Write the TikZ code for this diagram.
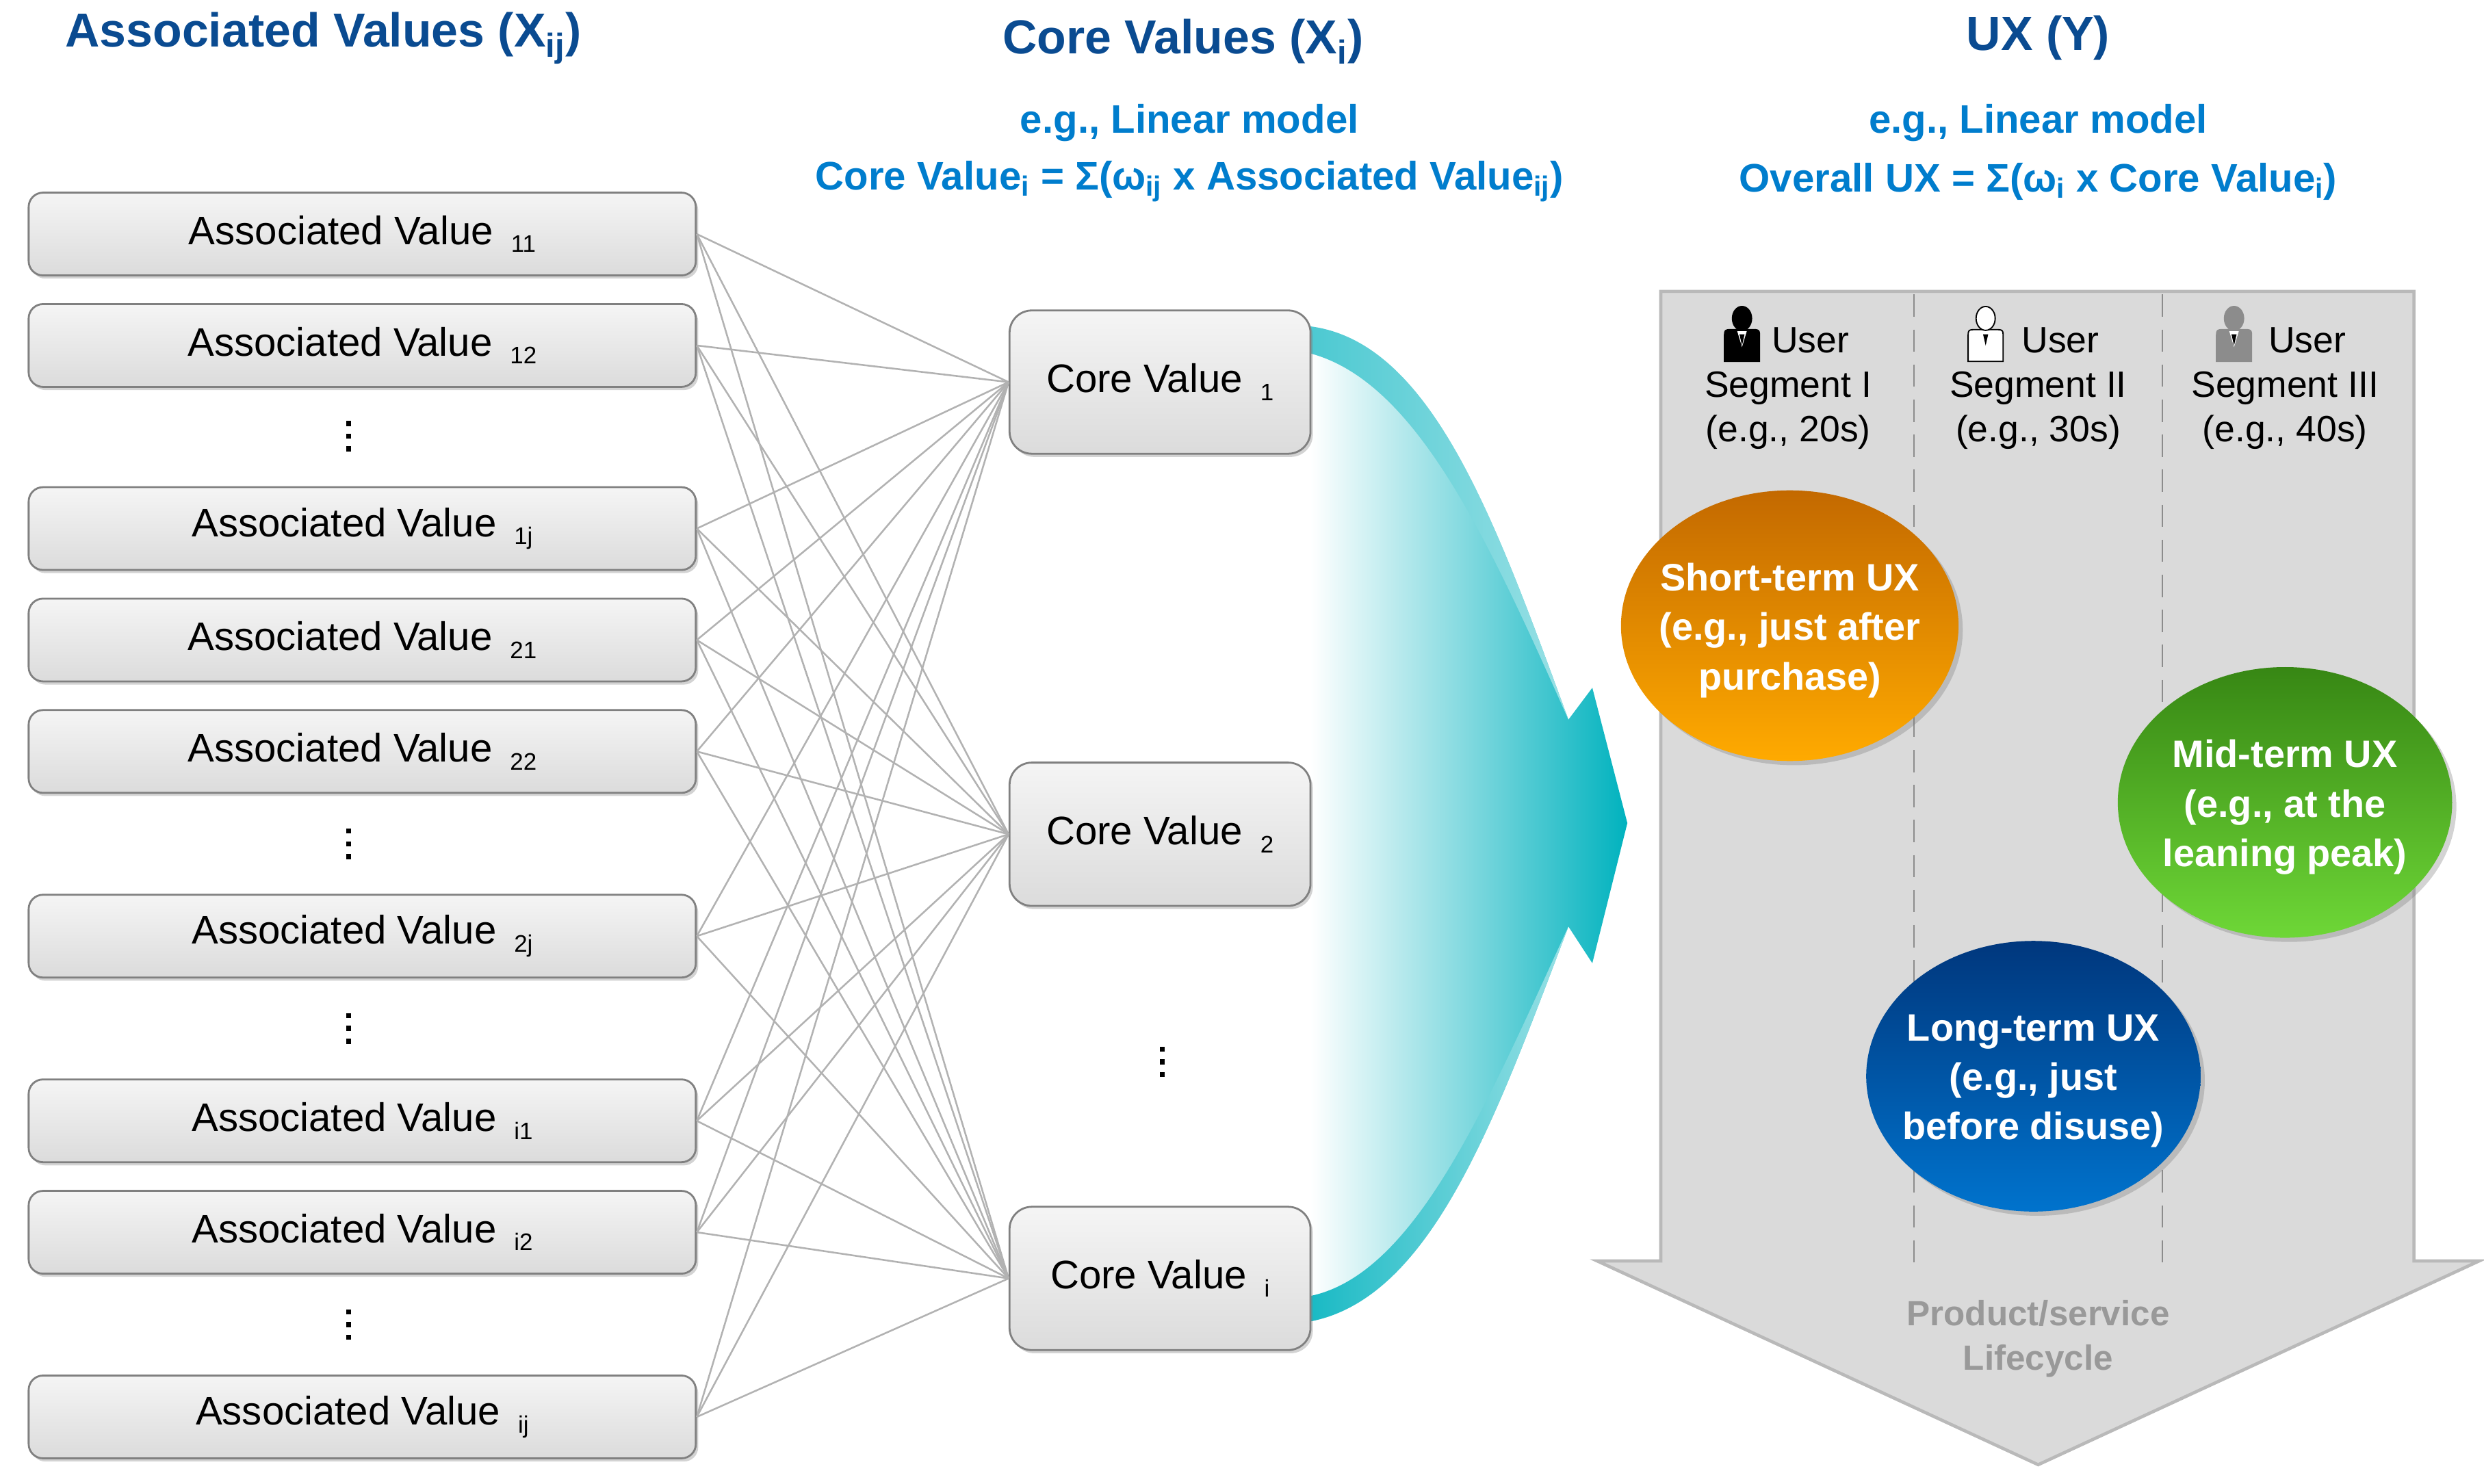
\documentclass[tikz,border=0pt]{standalone}
\usepackage{fontspec}
\setmainfont{Liberation Sans}
\usetikzlibrary{shadows,shapes.geometric}
\definecolor{tdark}{RGB}{10,75,145}
\definecolor{tlight}{RGB}{0,125,205}
\definecolor{cyanA}{RGB}{0,178,190}
\definecolor{panel}{RGB}{218,218,218}
\definecolor{panelE}{RGB}{185,185,185}
\begin{document}
\begin{tikzpicture}[x=1pt,y=-1pt,
  box/.style={draw=black!50,line width=1.2pt,rounded corners=9pt,top color=black!4,bottom color=black!14,drop shadow={opacity=0.35,shadow xshift=1.5pt,shadow yshift=-2pt},font=\fontsize{25}{28}\selectfont},
  av/.style={box,minimum width=419pt,minimum height=52pt},
  cv/.style={box,rounded corners=14pt,minimum width=189pt,minimum height=90pt},
  lnk/.style={draw=black!30,line width=1.1pt},
  ttl/.style={font=\fontsize{30}{33}\selectfont\bfseries,text=tdark},
  sub/.style={font=\fontsize{25}{28}\selectfont\bfseries,text=tlight},
  seg/.style={font=\fontsize{23}{28}\selectfont,align=center},
  uxbg/.style={drop shadow={opacity=0.35}},
  ux/.style={text=white,align=center,font=\fontsize{24}{31}\selectfont\bfseries},
  dot/.style={fill=black}]
\useasboundingbox (0,0) rectangle (1560,932);
% titles
\node[ttl] (t1) at (203,24) {Associated Values (X\textsubscript{ij})};
\node[ttl] (t2) at (743,26) {Core Values (X\textsubscript{i})};
\node[ttl] (t3) at (1280,24) {UX (Y)};
\node[sub] (s1) at (747,77) {e.g., Linear model};
\node[sub] (s2) at (747,114) {Core Value\textsubscript{i} = Σ(ω\textsubscript{ij} x Associated Value\textsubscript{ij})};
\node[sub] (s3) at (1280,77) {e.g., Linear model};
\node[sub] (s4) at (1280,114) {Overall UX = Σ(ω\textsubscript{i} x Core Value\textsubscript{i})};
% cyan arrow
\shade[left color=white,right color=cyanA]
 (823,205) .. controls (900,215) and (940,330) .. (985,452) -- (1000,432) -- (1022,517) -- (1000,605) -- (985,582)
 .. controls (940,700) and (900,815) .. (823,830) -- cycle;
\shade[left color=cyanA!70,right color=cyanA!40]
 (823,205) .. controls (900,215) and (940,330) .. (985,452) .. controls (935,340) and (890,240) .. (823,222) -- cycle;
\shade[left color=cyanA!90,right color=cyanA!40]
 (823,830) .. controls (900,815) and (940,700) .. (985,582) .. controls (935,690) and (890,800) .. (823,814) -- cycle;
% right panel
\fill[panel,draw=panelE,line width=2pt] (1043,183) -- (1516,183) -- (1516,792) -- (1557,792) -- (1280,920) -- (1003,792) -- (1043,792) -- cycle;
\draw[black!45,dashed,dash pattern=on 14pt off 8pt,line width=1pt] (1202,185) -- (1202,800);
\draw[black!45,dashed,dash pattern=on 14pt off 8pt,line width=1pt] (1358,185) -- (1358,800);
\node[seg] (g1) at (1123,244) {\hspace*{28pt}User\\Segment I\\(e.g., 20s)};
\node[seg] (g2) at (1280,244) {\hspace*{28pt}User\\Segment II\\(e.g., 30s)};
\node[seg] (g3) at (1435,244) {\hspace*{28pt}User\\Segment III\\(e.g., 40s)};
% icons
\foreach \cx/\fc/\dc in {1094/black/black,1247/white/black,1403/black!45/black!45}{
  \filldraw[fill=\fc,draw=\dc,line width=0.8pt] (\cx-11,227) -- (\cx-11,212) .. controls (\cx-11,207) .. (\cx-5,207) -- (\cx+5,207) .. controls (\cx+11,207) .. (\cx+11,212) -- (\cx+11,227) -- cycle;
  \filldraw[fill=\fc,draw=\dc,line width=0.8pt] (\cx,200) ellipse (6pt and 7.5pt);
  \fill[white] (\cx-3,208) -- (\cx+3,208) -- (\cx,218) -- cycle;
  \fill[black] (\cx-1.6,210) -- (\cx+1.6,210) -- (\cx,217) -- cycle;
}
\node[seg,text=black!40,font=\fontsize{22}{28}\selectfont\bfseries] (lc) at (1280,841) {Product/service\\Lifecycle};
% ellipses
\shade[uxbg,top color={rgb,255:red,195;green,105;blue,0},bottom color={rgb,255:red,255;green,170;blue,0}] (1124,393) ellipse (106pt and 85pt);
\shade[uxbg,top color={rgb,255:red,55;green,135;blue,20},bottom color={rgb,255:red,110;green,215;blue,55}] (1435,504) ellipse (105pt and 85pt);
\shade[uxbg,top color={rgb,255:red,0;green,55;blue,125},bottom color={rgb,255:red,0;green,115;blue,205}] (1277,676) ellipse (105pt and 85pt);
\node[ux] (e1) at (1124,396) {Short-term UX\\(e.g., just after\\purchase)};
\node[ux] (e2) at (1435,507) {Mid-term UX\\(e.g., at the\\leaning peak)};
\node[ux] (e3) at (1277,679) {Long-term UX\\(e.g., just\\before disuse)};
% associated values
\foreach \n/\y/\s in {a1/147/11,a2/217/12,a3/332/1j,a4/402/21,a5/472/22,a6/588/2j,a7/704/i1,a8/774/i2,a9/890/ij}{
  \node[av] (\n) at (227.5,\y) {Associated Value \,{\fontsize{15}{15}\selectfont\raisebox{-5pt}{\s}}};
}
\foreach \n/\y/\s in {c1/240/1,c2/524/2,c3/803/i}{
  \node[cv] (\n) at (728.5,\y) {Core Value \,{\fontsize{15}{15}\selectfont\raisebox{-5pt}{\s}}};
}
\foreach \a in {a1,a2,a3,a4,a5,a6,a7,a8,a9}{
  \foreach \c in {c1,c2,c3}{ \draw[lnk] (\a.east) -- (\c.west); }
}
\foreach \x/\y in {219/274,219/530,219/646,219/832,730/667}{
  \foreach \d in {-8,0,8}{ \fill[dot] (\x-1.6,\y+\d-1.6) rectangle (\x+1.6,\y+\d+1.6); }
}
\end{tikzpicture}
\end{document}
